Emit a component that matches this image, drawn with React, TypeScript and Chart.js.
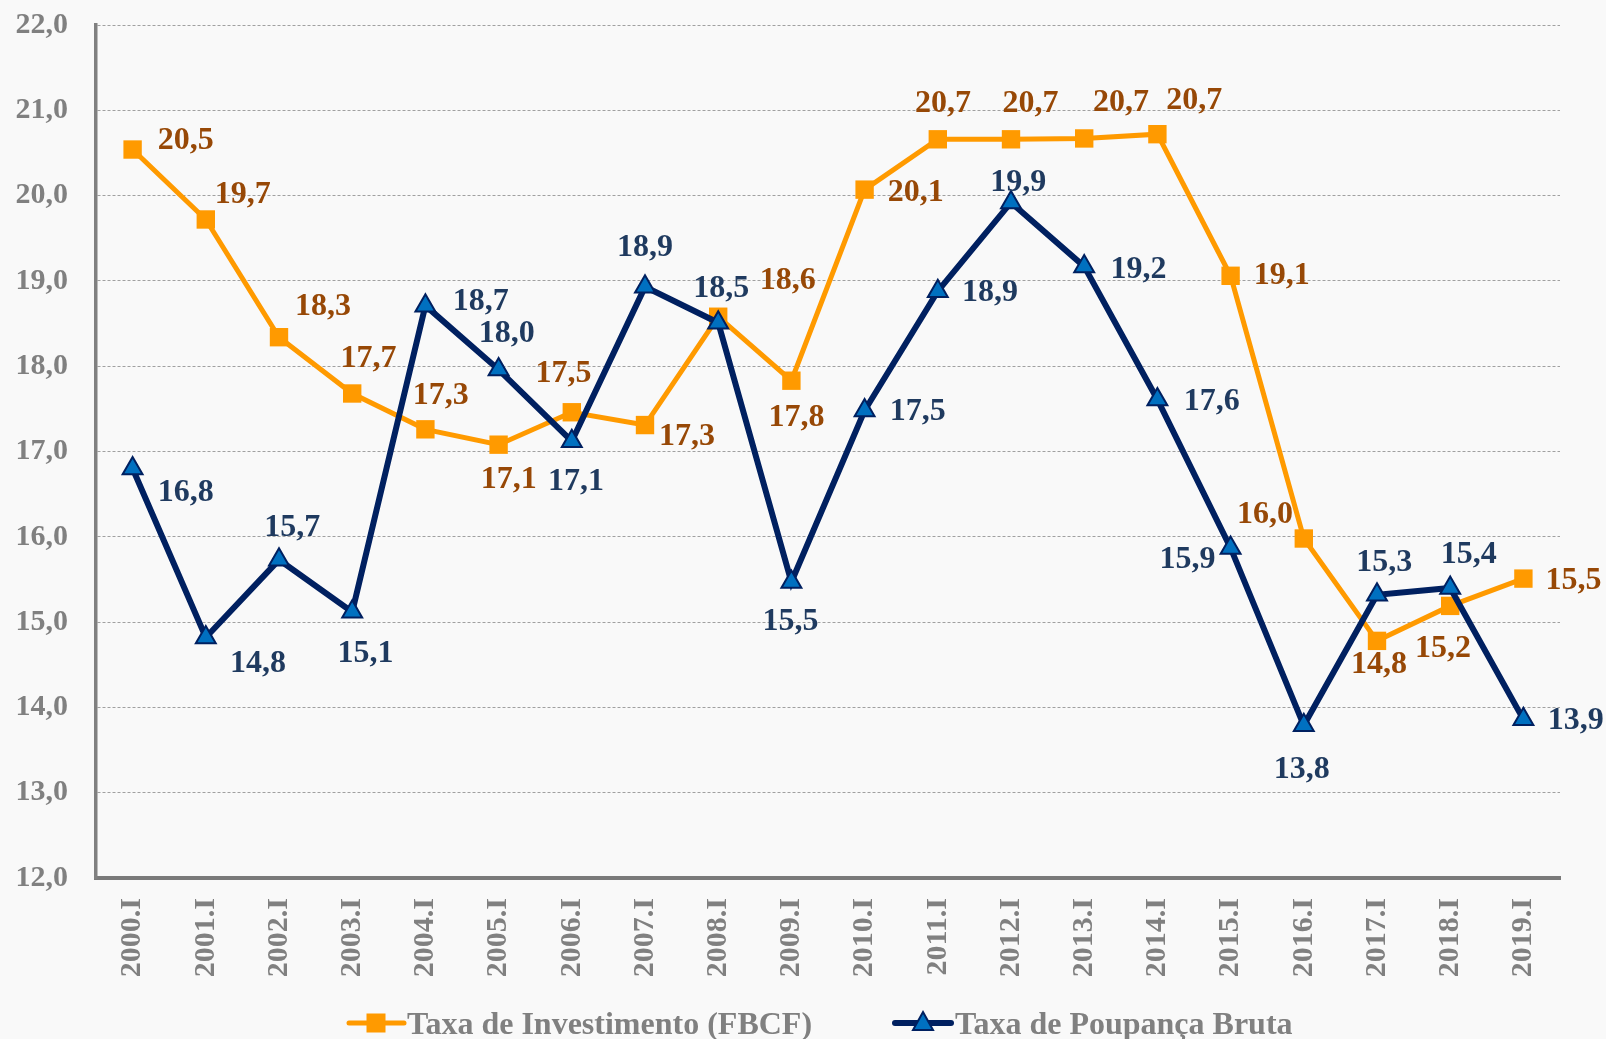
import { useEffect, useRef } from "react";
import { Chart, registerables } from "chart.js";

Chart.register(...registerables);

const categories = [
  "2000.I", "2001.I", "2002.I", "2003.I", "2004.I", "2005.I", "2006.I", "2007.I", "2008.I", "2009.I",
  "2010.I", "2011.I", "2012.I", "2013.I", "2014.I", "2015.I", "2016.I", "2017.I", "2018.I", "2019.I",
];

const taxaInvestimento = [
  20.54, 19.72, 18.34, 17.68, 17.26, 17.08, 17.46, 17.31, 18.58, 17.83,
  20.07, 20.66, 20.66, 20.67, 20.72, 19.06, 15.98, 14.78, 15.19, 15.51,
];

const taxaPoupanca = [
  16.8, 14.82, 15.73, 15.12, 18.71, 17.96, 17.12, 18.93, 18.51, 15.47,
  17.48, 18.88, 19.92, 19.17, 17.61, 15.87, 13.79, 15.32, 15.4, 13.86,
];

const seriesNames = ["Taxa de Investimento (FBCF)", "Taxa de Poupança Bruta"];

const yMin = 12;
const yMax = 22;
const yStep = 1;

// label offsets relative to each point (layout only)
const investLabelOffsets: [number, number][] = [
  [52, -10], [36, -25], [43, -31], [16, -35], [15, -34], [10, 33], [-8, -39], [41, 10], [68, -36], [5, 35],
  [50, 2], [5, -36], [19, -36], [36, -36], [36, -34], [50, -1], [-38, -24], [2, 22], [-7, 41], [49, 1],
];
const poupancaLabelOffsets: [number, number][] = [
  [52, 23], [51, 25], [13, -32], [13, 40], [54, -5], [8, -36], [4, 39], [0, -39], [3, -34], [-1, 38],
  [52, 0], [51, 1], [7, -20], [53, 2], [53, 1], [-42, 11], [-2, 42], [7, -32], [18, -33], [51, 0],
];

const S = 1606 / 1568;
const FONT = '"Liberation Serif", "Times New Roman", serif';
const BG = "#f9f9f9";
const ORANGE = "#ff9a00";
const ORANGE_TEXT = "#974806";
const NAVY = "#002060";
const NAVY_FILL = "#0070c0";
const NAVY_TEXT = "#1f3a5f";
const GRAY = "#808080";

const fmt = (v: number) => v.toFixed(1).replace(".", ",");

export default function App() {
  const ref = useRef<HTMLCanvasElement | null>(null);

  useEffect(() => {
    if (!ref.current) return;

    const bgPlugin = {
      id: "bg",
      beforeDraw(chart: any) {
        const { ctx, width, height } = chart;
        ctx.save();
        ctx.fillStyle = BG;
        ctx.fillRect(0, 0, width, height);
        ctx.restore();
      },
    };

    const labelPlugin = {
      id: "pointLabels",
      afterDatasetsDraw(chart: any) {
        const ctx = chart.ctx;
        const sets = [
          { idx: 0, data: taxaInvestimento, offs: investLabelOffsets, color: ORANGE_TEXT },
          { idx: 1, data: taxaPoupanca, offs: poupancaLabelOffsets, color: NAVY_TEXT },
        ];
        ctx.save();
        ctx.font = `bold 32px ${FONT}`;
        ctx.textAlign = "center";
        ctx.textBaseline = "middle";
        for (const s of sets) {
          const meta = chart.getDatasetMeta(s.idx);
          ctx.fillStyle = s.color;
          meta.data.forEach((pt: any, i: number) => {
            const [dx, dy] = s.offs[i];
            ctx.fillText(fmt(s.data[i]), pt.x + dx * S, pt.y + dy * S + 1);
          });
        }
        ctx.restore();
      },
    };

    const legendPlugin = {
      id: "customLegend",
      afterDraw(chart: any) {
        const ctx = chart.ctx;
        const y = 1023;
        ctx.save();
        ctx.strokeStyle = ORANGE;
        ctx.lineWidth = 5;
        ctx.lineCap = "round";
        ctx.beginPath();
        ctx.moveTo(349, y);
        ctx.lineTo(404, y);
        ctx.stroke();
        ctx.fillStyle = ORANGE;
        ctx.fillRect(376 - 9.5, y - 9.5, 19, 19);
        ctx.strokeStyle = NAVY;
        ctx.lineWidth = 6;
        ctx.beginPath();
        ctx.moveTo(895, y);
        ctx.lineTo(951, y);
        ctx.stroke();
        ctx.beginPath();
        ctx.moveTo(923, y - 11);
        ctx.lineTo(933, y + 7);
        ctx.lineTo(913, y + 7);
        ctx.closePath();
        ctx.fillStyle = NAVY_FILL;
        ctx.fill();
        ctx.lineWidth = 2;
        ctx.lineCap = "butt";
        ctx.stroke();
        ctx.font = `bold 32px ${FONT}`;
        ctx.fillStyle = GRAY;
        ctx.textAlign = "left";
        ctx.textBaseline = "alphabetic";
        ctx.fillText(seriesNames[0], 407, 1034);
        ctx.fillText(seriesNames[1], 955, 1034);
        ctx.restore();
      },
    };

    const chart = new Chart(ref.current, {
      type: "line",
      data: {
        labels: categories,
        datasets: [
          {
            label: seriesNames[0],
            data: taxaInvestimento,
            borderColor: ORANGE,
            backgroundColor: ORANGE,
            borderWidth: 5,
            pointStyle: "rect",
            pointRadius: 13,
            pointHoverRadius: 13,
            pointBorderWidth: 0,
            pointBackgroundColor: ORANGE,
            tension: 0,
            order: 1,
          },
          {
            label: seriesNames[1],
            data: taxaPoupanca,
            borderColor: NAVY,
            backgroundColor: NAVY_FILL,
            borderWidth: 6,
            pointStyle: "triangle",
            pointRadius: 11.5,
            pointHoverRadius: 11.5,
            pointBorderWidth: 2,
            pointBorderColor: NAVY,
            pointBackgroundColor: NAVY_FILL,
            tension: 0,
            order: 0,
          },
        ],
      },
      options: {
        animation: false,
        responsive: false,
        layout: { padding: { top: 25, right: 46, bottom: 0, left: 0 } },
        plugins: {
          legend: { display: false },
          tooltip: { enabled: false },
        },
        scales: {
          x: {
            offset: true,
            grid: { display: false, drawTicks: false },
            border: { display: true, color: "#7a7a7a", width: 4 },
            ticks: {
              minRotation: 90,
              maxRotation: 90,
              padding: 20,
              color: GRAY,
              font: { family: FONT, size: 30, weight: "bold" },
            },
            afterFit(scale: any) {
              scale.height = 161;
            },
          },
          y: {
            min: yMin,
            max: yMax,
            ticks: {
              stepSize: yStep,
              padding: 0,
              color: GRAY,
              font: { family: FONT, size: 30, weight: "bold" },
              callback: (v: any) => fmt(Number(v)),
            },
            grid: { color: "#a0a0a0", lineWidth: 1, drawTicks: true, tickLength: 28, tickColor: "rgba(0,0,0,0)" },
            border: { display: true, color: "#808080", width: 3.5, dash: [3, 2] },
            afterFit(scale: any) {
              scale.width = 96;
            },
          },
        },
      },
      plugins: [bgPlugin, labelPlugin, legendPlugin],
    } as any);

    return () => chart.destroy();
  }, []);

  return (
    <div style={{ position: "absolute", left: 0, top: 0, width: 1606, height: 1039, background: BG }}>
      <canvas ref={ref} width={1606} height={1039} style={{ display: "block" }} />
    </div>
  );
}
